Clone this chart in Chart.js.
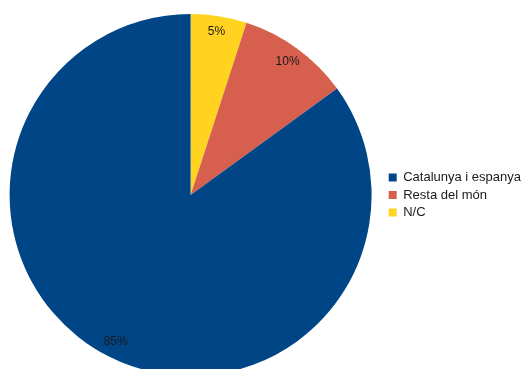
<!DOCTYPE html>
<html>
<head>
<meta charset="utf-8">
<script src="https://cdn.jsdelivr.net/npm/chart.js@4/dist/chart.umd.min.js"></script>
<style>
  html, body { margin: 0; padding: 0; background: #fff; overflow: hidden; }
  #wrap { width: 523px; height: 369px; overflow: hidden; }
  #pie { margin-left: -3px; }
</style>
</head>
<body>
<div id="wrap"><canvas id="pie" width="526" height="392"></canvas></div>
<script>
// Slices listed in drawing order (clockwise from 12 o'clock)
const categories = ['N/C', 'Resta del món', 'Catalunya i espanya'];
const shares = [5, 10, 85];
const sliceColors = ['#ffd320', '#d6604d', '#004586'];

// Percent labels placed near the outer rim of each slice
const sliceLabels = {
  id: 'sliceLabels',
  afterDatasetsDraw(chart) {
    const ctx = chart.ctx;
    const meta = chart.getDatasetMeta(0);
    ctx.save();
    ctx.font = '12px "Liberation Sans", Arial, sans-serif';
    ctx.fillStyle = '#1a1a1a';
    ctx.textAlign = 'center';
    ctx.textBaseline = 'middle';
    meta.data.forEach((arc, i) => {
      const mid = (arc.startAngle + arc.endAngle) / 2;
      const r = arc.outerRadius - 16;
      ctx.fillText(shares[i] + '%', arc.x + Math.cos(mid) * r, arc.y + Math.sin(mid) * r);
    });
    ctx.restore();
  }
};

new Chart(document.getElementById('pie'), {
  type: 'pie',
  data: {
    labels: categories,
    datasets: [{
      data: shares,
      backgroundColor: sliceColors,
      borderWidth: 0
    }]
  },
  options: {
    responsive: false,
    animation: false,
    layout: { padding: { left: -12, top: 14, bottom: 16, right: -8 } },
    plugins: {
      tooltip: { enabled: false },
      legend: {
        position: 'right',
        reverse: true,
        labels: {
          boxWidth: 8,
          boxHeight: 8,
          padding: 4.5,
          color: '#1a1a1a',
          font: { family: '"Liberation Sans", Arial, sans-serif', size: 13 }
        }
      }
    }
  },
  plugins: [sliceLabels]
});
</script>
</body>
</html>
